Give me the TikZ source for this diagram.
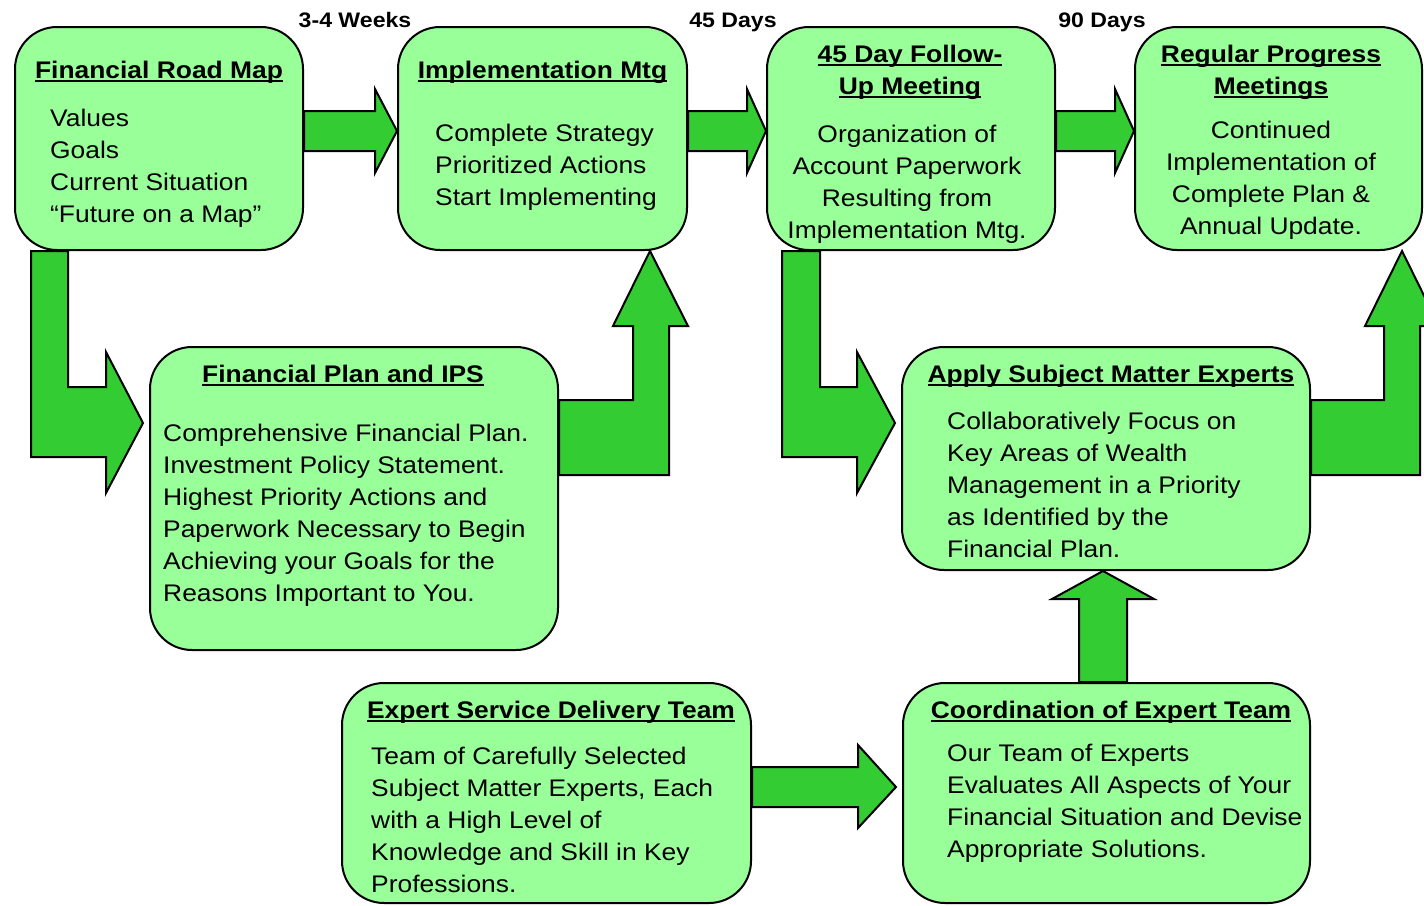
\documentclass[tikz,border=0pt]{standalone}
\usepackage{fontspec}
\setmainfont{Liberation Sans}[FakeStretch=1.1]
\usetikzlibrary{backgrounds}
\definecolor{boxgreen}{HTML}{99FF99}
\definecolor{arrowgreen}{HTML}{33CC33}
\newcommand\uln[1]{\setbox0=\hbox{#1}\rlap{\rule[-3.5pt]{\wd0}{2pt}}\box0}
\tikzset{
  stage/.style={draw, line width=2pt, fill=boxgreen, rounded corners=42pt, inner sep=0pt},
  fatarrow/.style={draw, line width=2pt, fill=arrowgreen, line join=miter},
  heading/.style={font=\bfseries\fontsize{24}{32}\selectfont, inner sep=0pt},
  body/.style={font=\fontsize{24}{32}\selectfont, inner sep=0pt},
  timing/.style={font=\bfseries\fontsize{21}{24}\selectfont, inner sep=0pt}
}
\begin{document}
\begin{tikzpicture}[x=1pt, y=-1pt]
\useasboundingbox (0,0) rectangle (1424,905);

\node[stage, minimum width=288pt, minimum height=223pt] (road) at (159,138.5) {};
\node[stage, minimum width=289pt, minimum height=223pt] (impl) at (542.5,138.5) {};
\node[stage, minimum width=288pt, minimum height=223pt] (follow) at (911,138.5) {};
\node[stage, minimum width=287pt, minimum height=223pt] (progress) at (1278.5,138.5) {};
\node[stage, minimum width=408pt, minimum height=303pt] (plan) at (354,498.5) {};
\node[stage, minimum width=408pt, minimum height=223pt] (experts) at (1106,458.5) {};
\node[stage, minimum width=409pt, minimum height=220pt] (team) at (546.5,793) {};
\node[stage, minimum width=407pt, minimum height=220pt] (coord) at (1106.5,793) {};

\node[timing, anchor=base] (weeks) at (355,27) {3-4 Weeks};
\node[timing, anchor=base] (days45) at (733,27) {45 Days};
\node[timing, anchor=base] (days90) at (1102,27) {90 Days};

\node[heading, anchor=base] (roadtitle) at (159,78) {\uln{Financial Road Map}};
\node[body, anchor=north west, align=left] (roadtext) at (50,109)
  {Values\\Goals\\Current Situation\\“Future on a Map”};

\node[heading, anchor=base] (impltitle) at (542.5,78) {\uln{Implementation Mtg}};
\node[body, anchor=north west, align=left] (impltext) at (435,124)
  {Complete Strategy\\Prioritized Actions\\Start Implementing};

\node[heading, anchor=north, align=center] (followtitle) at (910,45)
  {\uln{45 Day Follow-}\\\uln{Up Meeting}};
\node[body, anchor=north, align=center] (followtext) at (907,124.5)
  {Organization of\\Account Paperwork\\Resulting from\\Implementation Mtg.};

\node[heading, anchor=north, align=center] (progresstitle) at (1271,45)
  {\uln{Regular Progress}\\\uln{Meetings}};
\node[body, anchor=north, align=center] (progresstext) at (1271,121)
  {Continued\\Implementation of\\Complete Plan \&\\Annual Update.};

\node[heading, anchor=base] (plantitle) at (343,382) {\uln{Financial Plan and IPS}};
\node[body, anchor=north west, align=left] (plantext) at (163,424)
  {Comprehensive Financial Plan.\\Investment Policy Statement.\\Highest Priority Actions and\\Paperwork Necessary to Begin\\Achieving your Goals for the\\Reasons Important to You.};

\node[heading, anchor=base] (expertstitle) at (1111,382) {\uln{Apply Subject Matter Experts}};
\node[body, anchor=north west, align=left] (expertstext) at (947,412)
  {Collaboratively Focus on\\Key Areas of Wealth\\Management in a Priority\\as Identified by the\\Financial Plan.};

\node[heading, anchor=base] (teamtitle) at (551,718) {\uln{Expert Service Delivery Team}};
\node[body, anchor=north west, align=left] (teamtext) at (371,747)
  {Team of Carefully Selected\\Subject Matter Experts, Each\\with a High Level of\\Knowledge and Skill in Key\\Professions.};

\node[heading, anchor=base] (coordtitle) at (1111,718) {\uln{Coordination of Expert Team}};
\node[body, anchor=north west, align=left] (coordtext) at (947,744)
  {Our Team of Experts\\Evaluates All Aspects of Your\\Financial Situation and Devise\\Appropriate Solutions.};

\begin{pgfonlayer}{background}
\draw[fatarrow] (road.east |- 0,111) -- (375,111) -- (375,89) -- (impl.west |- 0,131)
  -- (375,173) -- (375,151) -- (road.east |- 0,151) -- cycle;
\draw[fatarrow] (impl.east |- 0,111) -- (747,111) -- (747,89) -- (follow.west |- 0,131)
  -- (747,173) -- (747,151) -- (impl.east |- 0,151) -- cycle;
\draw[fatarrow] (follow.east |- 0,111) -- (1115,111) -- (1115,89) -- (progress.west |- 0,131)
  -- (1115,173) -- (1115,151) -- (follow.east |- 0,151) -- cycle;
\draw[fatarrow] (31,0 |- road.south) -- (31,457) -- (106,457) -- (106,493) -- (143,423)
  -- (106,352) -- (106,387) -- (68,387) -- (68,0 |- road.south) -- cycle;
\draw[fatarrow] (plan.east |- 0,475) -- (669,475) -- (669,326) -- (688,326)
  -- (650,0 |- impl.south) -- (613,326) -- (633,326) -- (633,400) -- (plan.east |- 0,400) -- cycle;
\draw[fatarrow] (782,0 |- follow.south) -- (782,457) -- (857,457) -- (857,493) -- (895,423)
  -- (857,352) -- (857,387) -- (820,387) -- (820,0 |- follow.south) -- cycle;
\draw[fatarrow] (experts.east |- 0,475) -- (1420,475) -- (1420,326) -- (1439,326)
  -- (1402,0 |- progress.south) -- (1365,326) -- (1384,326) -- (1384,400) -- (experts.east |- 0,400) -- cycle;
\draw[fatarrow] (1079,0 |- coord.north) -- (1079,599) -- (1052,599) -- (1103,0 |- experts.south)
  -- (1154,599) -- (1127,599) -- (1127,0 |- coord.north) -- cycle;
\draw[fatarrow] (team.east |- 0,767) -- (858,767) -- (858,745) -- (896,787)
  -- (858,828) -- (858,807) -- (team.east |- 0,807) -- cycle;
\end{pgfonlayer}
\end{tikzpicture}
\end{document}
